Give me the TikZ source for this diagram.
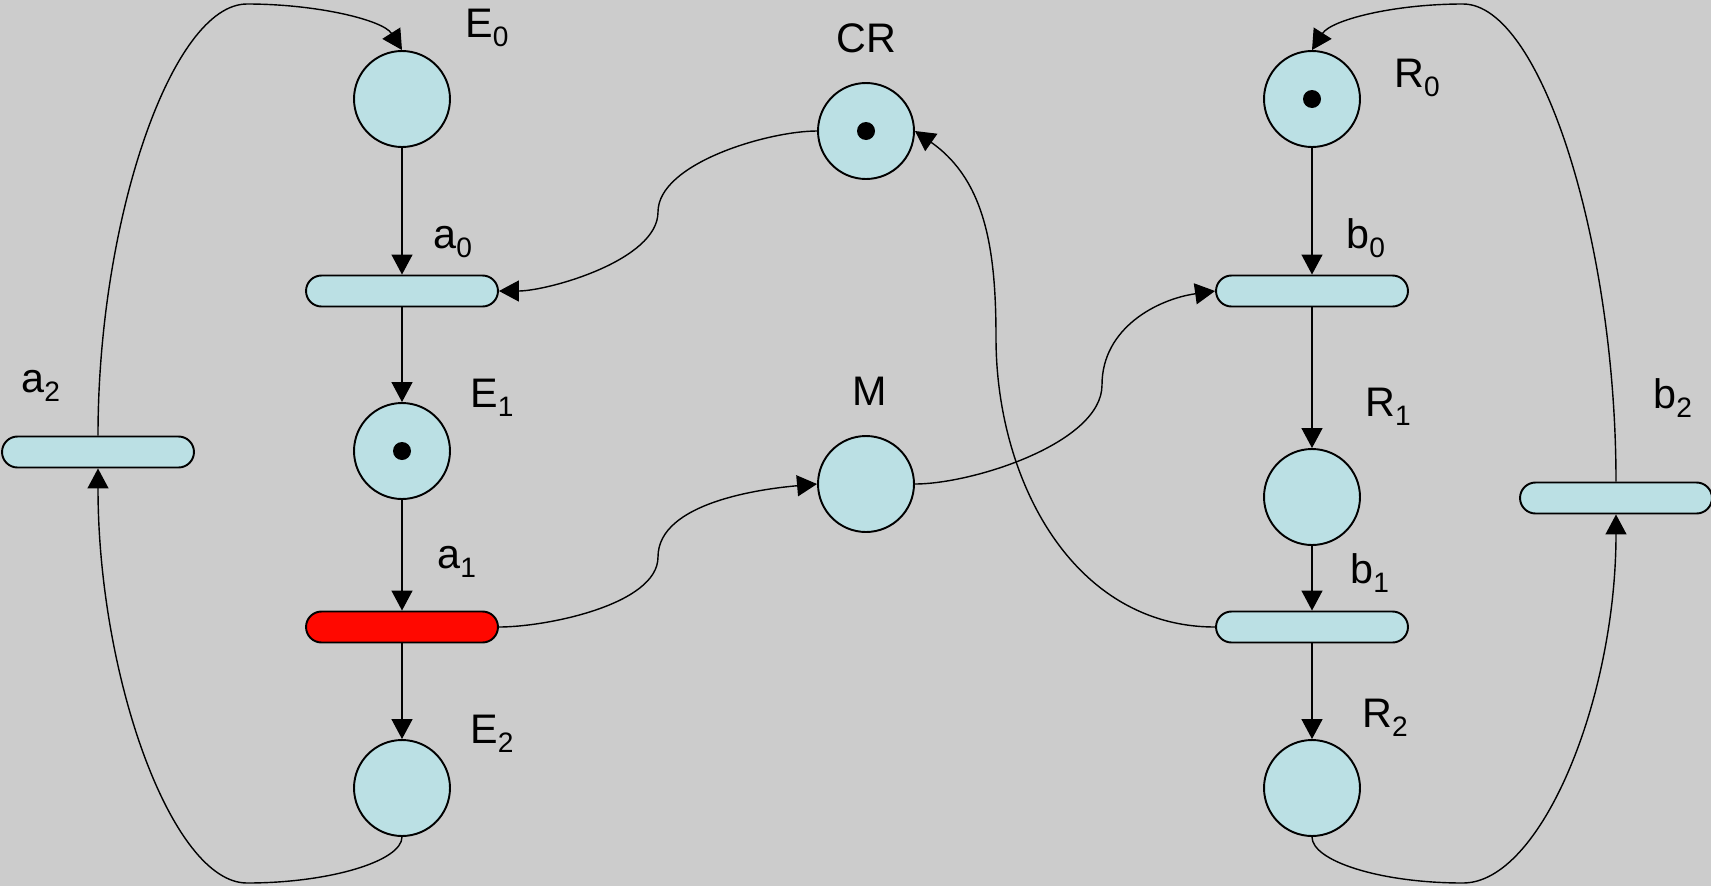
\documentclass[tikz,border=0pt]{standalone}
\usepackage{fontspec}
\setmainfont{Liberation Sans}
\usetikzlibrary{arrows.meta,shapes.misc}
\definecolor{canvas}{RGB}{204,204,204}
\definecolor{pfill}{RGB}{187,224,228}
\definecolor{fired}{RGB}{255,8,0}
% lowered index for the place/transition names
\newcommand{\idx}[1]{\raisebox{-5.5pt}{\fontsize{16}{16}\selectfont #1}}
\begin{document}
\begin{tikzpicture}[x=0.02cm, y=0.02cm, line join=round,
    every node/.style={font=\fontsize{23.5}{26}\selectfont},
    plc/.style={circle, draw, line width=1.1pt, fill=pfill, minimum size=1.92cm, inner sep=0},
    trn/.style={rounded rectangle, draw, line width=1.1pt, fill=pfill, minimum width=3.84cm, minimum height=0.62cm, inner sep=0},
    tok/.style={circle, fill=black, minimum size=0.36cm, inner sep=0},
    lbl/.style={anchor=base west, inner sep=0},
    flow/.style={-{Triangle[length=0.4cm,width=0.42cm]}, line width=0.8pt}]
    \fill[canvas] (0,0) rectangle (1711,-886);
    \useasboundingbox (0,0) rectangle (1711,-886);
    % left column
    \node[plc] (E0) at (402,-99) {}; \node[trn] (a0) at (402,-291) {}; \node[plc] (E1) at (402,-451) {};
    \node[trn, fill=fired] (a1) at (402,-627) {}; \node[plc] (E2) at (402,-788) {};
    \node[trn] (a2) at (98,-452) {};
    % middle
    \node[plc] (CR) at (866,-131) {}; \node[plc] (M) at (866,-484) {};
    % right column
    \node[plc] (R0) at (1312,-99) {}; \node[trn] (b0) at (1312,-291) {}; \node[plc] (R1) at (1312,-497) {};
    \node[trn] (b1) at (1312,-627) {}; \node[plc] (R2) at (1312,-788) {};
    \node[trn] (b2) at (1616,-498) {};
    % tokens
    \node[tok] (tE1) at (E1) {}; \node[tok] (tCR) at (CR) {}; \node[tok] (tR0) at (R0) {};
    % names
    \node[lbl] (lE0) at (465,-37) {E\idx{0}}; \node[lbl] (la0) at (433,-248) {a\idx{0}};
    \node[lbl] (lE1) at (470,-407) {E\idx{1}}; \node[lbl] (la1) at (437,-568) {a\idx{1}};
    \node[lbl] (lE2) at (470,-743) {E\idx{2}}; \node[lbl] (la2) at (21,-392) {a\idx{2}};
    \node[lbl] (lCR) at (836,-52) {CR}; \node[lbl] (lM) at (852,-405) {M};
    \node[lbl] (lR0) at (1394,-87) {R\idx{0}}; \node[lbl] (lb0) at (1346,-248) {b\idx{0}};
    \node[lbl] (lR1) at (1365,-416) {R\idx{1}}; \node[lbl] (lb1) at (1350,-583) {b\idx{1}};
    \node[lbl] (lR2) at (1362,-727) {R\idx{2}}; \node[lbl] (lb2) at (1653,-408) {b\idx{2}};
    % straight arcs
    \draw[flow] (E0) -- (a0); \draw[flow] (a0) -- (E1); \draw[flow] (E1) -- (a1); \draw[flow] (a1) -- (E2);
    \draw[flow] (R0) -- (b0); \draw[flow] (b0) -- (R1); \draw[flow] (R1) -- (b1); \draw[flow] (b1) -- (R2);
    % bends of the curved arcs
    \coordinate (kA) at (658,-557); \coordinate (kB) at (658,-212);
    \coordinate (kC) at (1102,-385); \coordinate (kD) at (996,-338);
    \coordinate (tl) at (247,-4); \coordinate (bl) at (247,-883);
    \coordinate (tr) at (1463,-4); \coordinate (br) at (1463,-883);
    % arcs through the shared places
    \draw[flow] (a1.east) to[out=0,in=-90,looseness=0.7] (kA) to[out=90,in=185,looseness=0.8] (M.west);
    \draw[flow] (CR.west) to[out=180,in=90,looseness=0.7] (kB) to[out=-90,in=0,looseness=0.7] (a0.east);
    \draw[flow] (M.east) to[out=0,in=-90,looseness=0.7] (kC) to[out=90,in=188] (b0.west);
    \draw[flow] (b1.west) to[out=180,in=-90] (kD) to[out=90,in=-35] (CR.east);
    % loops back to the start places
    \draw[flow] (a2.north) .. controls +(0,216) and +(-75,0) .. (tl) .. controls +(70,0) and +(-19,30) .. (E0.north);
    \draw[flow] (E2.south) .. controls +(0,-24) and +(83,0) .. (bl) .. controls +(-75,0) and +(0,-208) .. (a2.south);
    \draw[flow] (b2.north) .. controls +(0,239) and +(78,0) .. (tr) .. controls +(-70,0) and +(19,30) .. (R0.north);
    \draw[flow] (R2.south) .. controls +(0,-24) and +(-83,0) .. (br) .. controls +(78,0) and +(0,-185) .. (b2.south);
\end{tikzpicture}
\end{document}
